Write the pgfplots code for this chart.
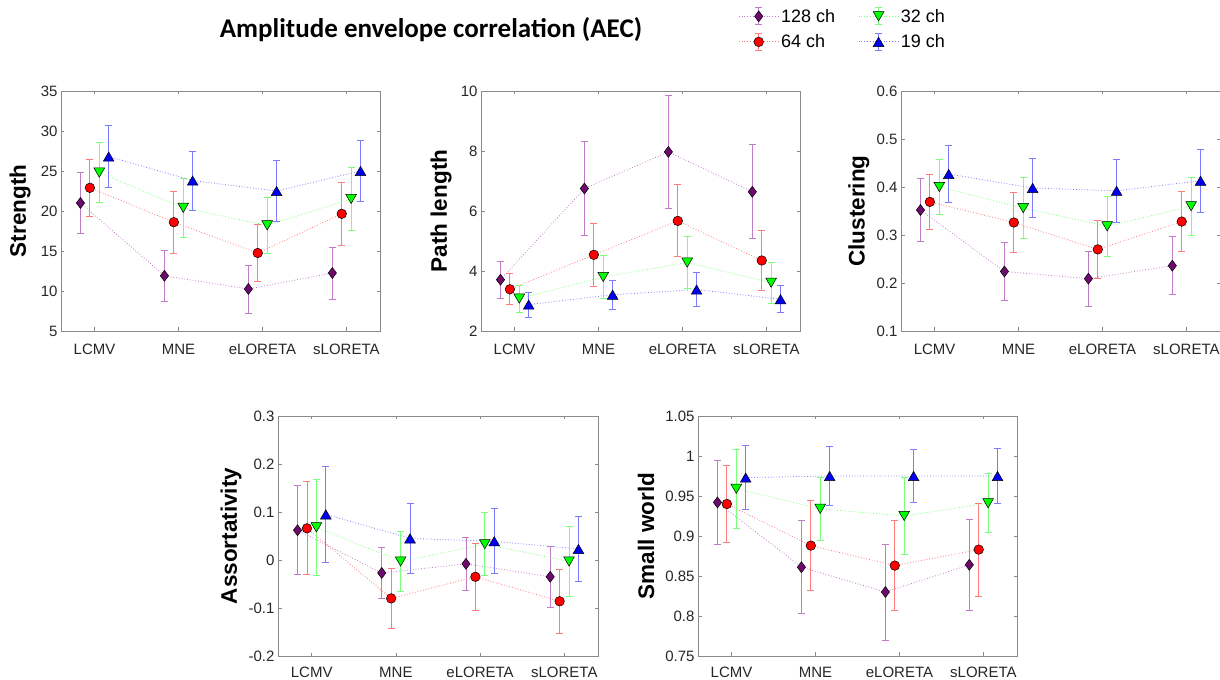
\documentclass[border=0pt]{standalone}
\usepackage{fontspec}
\setmainfont{Liberation Sans}
\newfontfamily\titlefont{Carlito}
\usepackage{pgfplots}
\usepackage{pgfplotstable}
\pgfplotsset{compat=1.18}

\definecolor{axgray}{HTML}{8A8A8A}
\definecolor{labgray}{HTML}{262626}
\definecolor{cP}{HTML}{6E0A6E}
\definecolor{lP}{HTML}{C27BC8}
\definecolor{cR}{HTML}{FF0000}
\definecolor{lR}{HTML}{FF7B7B}
\definecolor{cG}{HTML}{00FF00}
\definecolor{lG}{HTML}{7BFF7B}
\definecolor{cB}{HTML}{0000F0}
\definecolor{lB}{HTML}{7B7BFF}

\newcommand\tickfont{\fontsize{15bp}{18bp}\selectfont}
\newcommand\labfont{\fontsize{22.5bp}{27bp}\selectfont\bfseries}
\newcommand\legfont{\fontsize{18bp}{21bp}\selectfont}

% columns: i, 128 ch (a,ae), 64 ch (b,be), 32 ch (c,ce), 19 ch (d,de)
\pgfplotstableread{
i a ae b be c ce d de
1 21.0 3.85 22.9 3.6 24.8 3.75 26.8 3.9
2 11.9 3.2 18.6 3.9 20.4 3.7 23.8 3.7
3 10.25 3.0 14.75 3.55 18.2 3.55 22.5 3.8
4 12.25 3.25 19.65 3.95 21.5 3.9 25.0 3.85
}\tStrength
\pgfplotstableread{
i a ae b be c ce d de
1 3.71 0.62 3.39 0.52 3.08 0.45 2.88 0.42
2 6.75 1.57 4.54 1.05 3.80 0.71 3.21 0.48
3 7.97 1.87 5.67 1.20 4.28 0.86 3.38 0.57
4 6.64 1.57 4.35 1.00 3.61 0.68 3.06 0.45
}\tPath
\pgfplotstableread{
i a ae b be c ce d de
1 0.352 0.065 0.369 0.058 0.400 0.058 0.427 0.060
2 0.224 0.060 0.326 0.063 0.356 0.063 0.398 0.062
3 0.209 0.057 0.270 0.061 0.318 0.063 0.392 0.065
4 0.236 0.060 0.328 0.063 0.360 0.060 0.413 0.065
}\tClust
\pgfplotstableread{
i a ae b be c ce d de
1 0.062 0.093 0.066 0.097 0.068 0.100 0.095 0.100
2 -0.027 0.053 -0.080 0.062 -0.003 0.063 0.045 0.073
3 -0.008 0.055 -0.035 0.070 0.033 0.066 0.039 0.068
4 -0.035 0.063 -0.086 0.067 -0.003 0.072 0.023 0.068
}\tAssort
\pgfplotstableread{
i a ae b be c ce d de
1 0.942 0.053 0.940 0.048 0.959 0.049 0.973 0.040
2 0.861 0.058 0.888 0.056 0.934 0.039 0.975 0.037
3 0.830 0.060 0.863 0.056 0.925 0.048 0.975 0.033
4 0.864 0.057 0.883 0.058 0.941 0.037 0.975 0.034
}\tSmall

\pgfplotsset{
  ser/.style n args={3}{%
    color=#1, dotted, line width=0.8bp,
    mark options={solid, draw=black, fill=#2, line width=0.5bp, #3},
    error bars/y dir=both, error bars/y explicit,
    error bars/error bar style={solid, color=#1, line width=0.9bp},
    error bars/error mark options={rotate=90, solid, color=#1, line width=0.9bp, mark size=3.5bp},
    legend image code/.code={%
      \draw[solid, color=#1, line width=0.9bp] (20bp,-8.5bp)--(20bp,8.5bp)
        (16.5bp,-8.5bp)--(23.5bp,-8.5bp) (16.5bp,8.5bp)--(23.5bp,8.5bp);
      \draw[mark repeat=2, mark phase=2, ##1] plot coordinates {(0bp,0bp) (20bp,0bp) (40bp,0bp)};
    },
  },
  sA/.style={ser={lP}{cP}{mark size=5.5bp}, mark=diamond*},
  sB/.style={ser={lR}{cR}{mark size=4.8bp}, mark=*},
  sC/.style={ser={lG}{cG}{yshift=1.55bp, rotate=180, mark size=6.2bp}, mark=triangle*},
  sD/.style={ser={lB}{cB}{yshift=-1.55bp, mark size=6.2bp}, mark=triangle*},
  myaxis/.style={
    scale only axis, width=319bp, height=240bp, anchor=south west,
    xmin=0.6, xmax=4.4, xtick={1,2,3,4},
    xticklabels={LCMV,MNE,eLORETA,sLORETA},
    axis line style={draw=axgray, line width=0.6bp},
    tick style={draw=axgray, line width=0.6bp},
    major tick length=3.5bp, tick align=inside,
    ticklabel style={font=\tickfont, text=labgray},
    xticklabel style={yshift=-10bp},
    scaled y ticks=false,
    /pgf/number format/assume math mode=true,
    ylabel style={font=\labfont, text=black, anchor=center},
  },
}

\newcommand\fourseries[1]{%
  \addplot[sA] table[x expr=\thisrow{i}-0.168, y=a, y error=ae] {#1};
  \addplot[sB] table[x expr=\thisrow{i}-0.056, y=b, y error=be] {#1};
  \addplot[sC] table[x expr=\thisrow{i}+0.056, y=c, y error=ce] {#1};
  \addplot[sD] table[x expr=\thisrow{i}+0.168, y=d, y error=de] {#1};
}

\begin{document}
\begin{tikzpicture}
\useasboundingbox (0,0) rectangle (1220bp,680bp);
\clip (0,0) rectangle (1220bp,680bp);

\node[font={\titlefont\fontsize{27bp}{32bp}\bfseries\selectfont}, anchor=center] at (431bp,650bp) {Amplitude envelope correlation (AEC)};

\begin{axis}[myaxis, at={(61bp,349bp)}, ymin=5, ymax=35, ytick={5,10,15,20,25,30,35},
  ylabel={Strength}, ylabel style={at={(axis description cs:-0.1285,0.5)}}]
\fourseries{\tStrength}
\end{axis}

\begin{axis}[myaxis, at={(481bp,349bp)}, ymin=2, ymax=10, ytick={2,4,6,8,10},
  ylabel={Path length}, ylabel style={at={(axis description cs:-0.125,0.5)}},
  legend columns=2, transpose legend,
  legend style={draw=none, fill=none, inner sep=0pt, font=\legfont, text=black,
    at={(0.806,1.258)}, anchor=west, nodes={inner sep=2bp},
    /tikz/every even column/.append style={column sep=21bp}, row sep=7bp},
  legend cell align=left]
\fourseries{\tPath}
\legend{128 ch, 64 ch, 32 ch, 19 ch}
\end{axis}

\begin{axis}[myaxis, at={(901bp,349bp)}, ymin=0.1, ymax=0.6, ytick={0.1,0.2,0.3,0.4,0.5,0.6},
  ylabel={Clustering}, ylabel style={at={(axis description cs:-0.132,0.5)}}]
\fourseries{\tClust}
\end{axis}

\begin{axis}[myaxis, at={(278bp,24bp)}, width=320bp, ymin=-0.2, ymax=0.3, ytick={-0.2,-0.1,0,0.1,0.2,0.3},
  xticklabel style={yshift=2bp},
  ylabel={Assortativity}, ylabel style={at={(axis description cs:-0.147,0.5)}}]
\fourseries{\tAssort}
\end{axis}

\begin{axis}[myaxis, at={(698bp,24bp)}, ymin=0.75, ymax=1.05, ytick={0.75,0.8,0.85,0.9,0.95,1,1.05},
  xticklabel style={yshift=2bp},
  ylabel={Small world}, ylabel style={at={(axis description cs:-0.163,0.5)}}]
\fourseries{\tSmall}
\end{axis}
\end{tikzpicture}
\end{document}
